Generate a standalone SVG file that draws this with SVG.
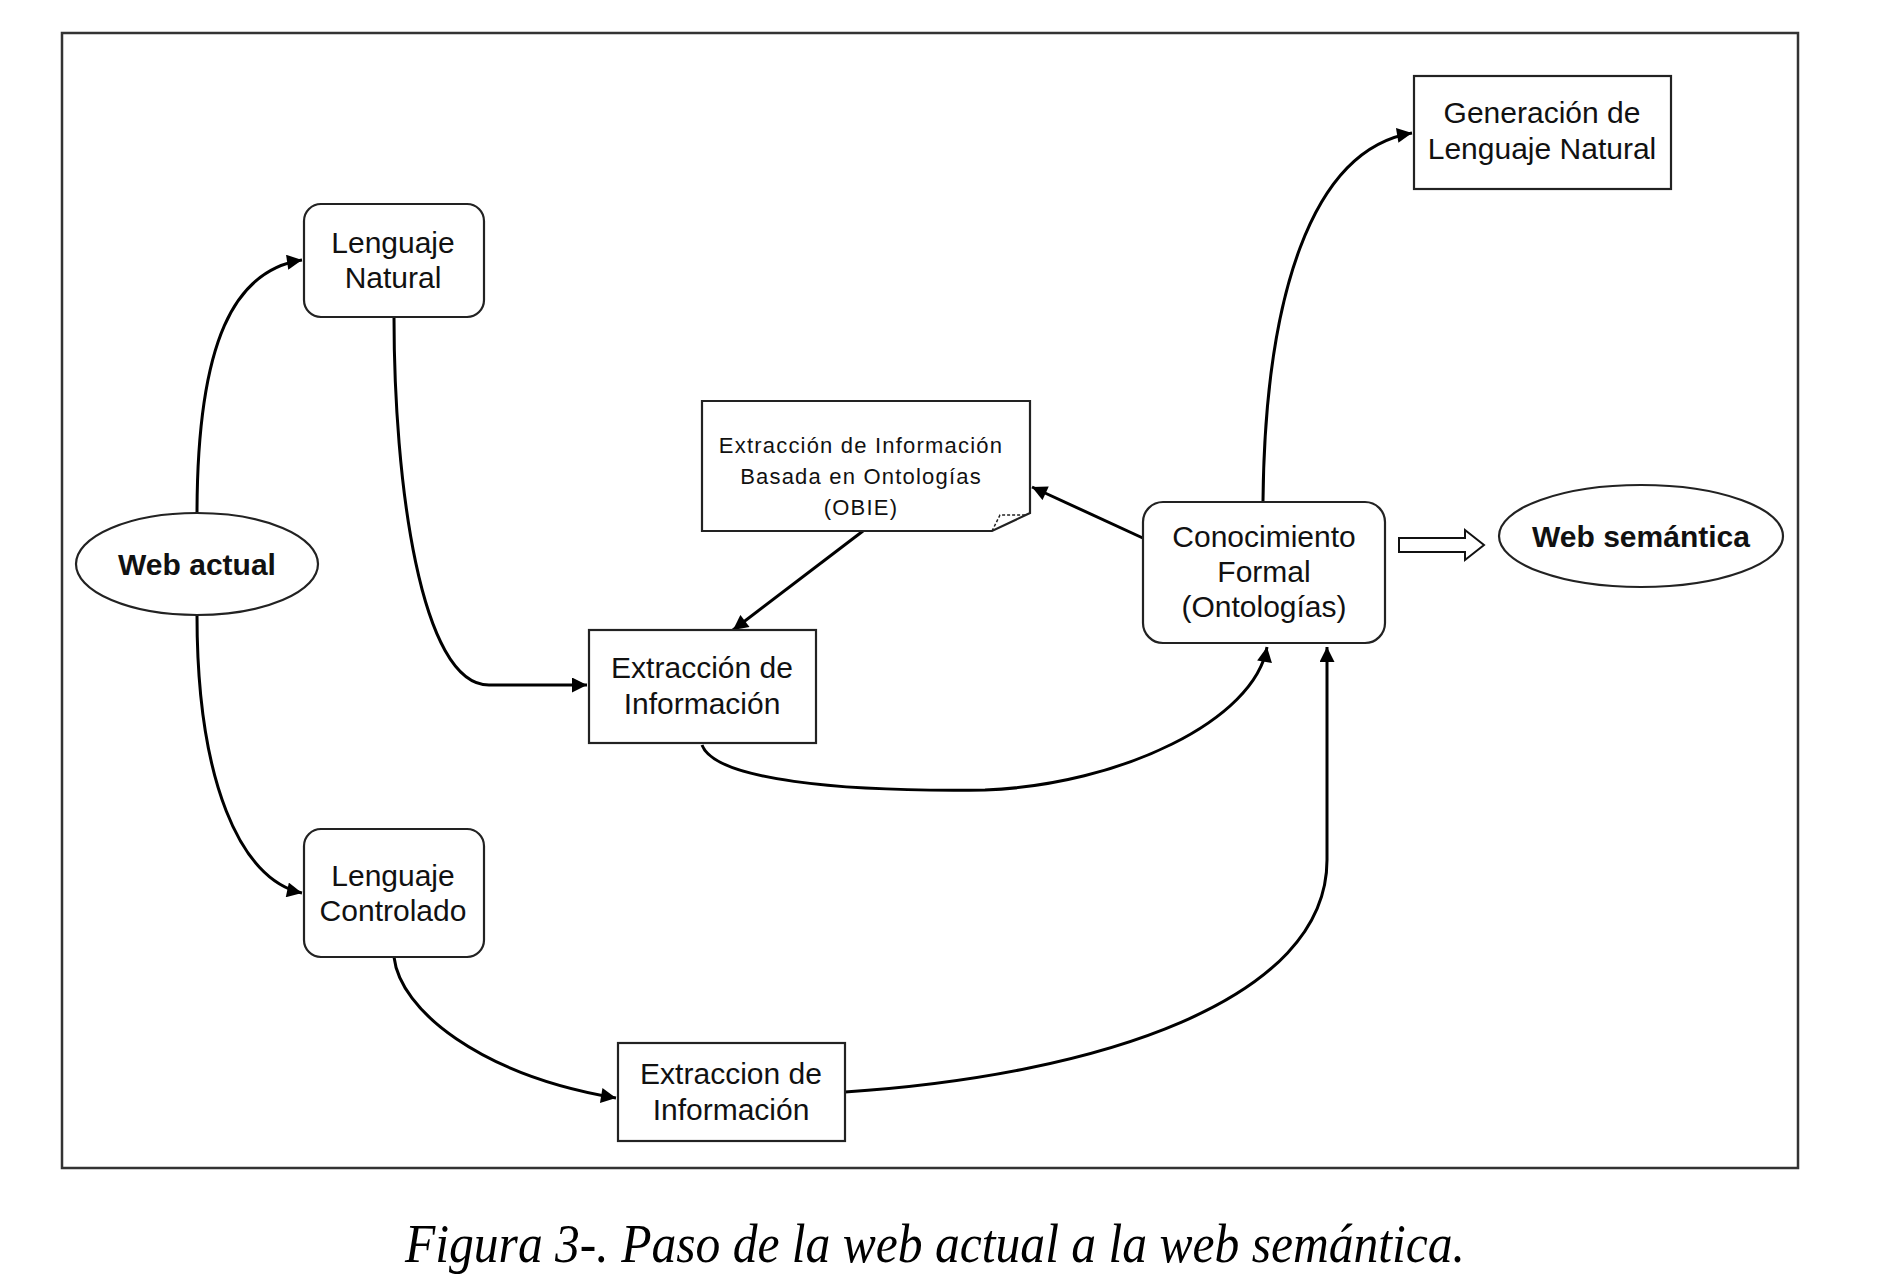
<svg xmlns="http://www.w3.org/2000/svg" width="1892" height="1284" viewBox="0 0 1892 1284">
<style>
.box{fill:#fff;stroke:#222;stroke-width:2.2}
.t{font-family:"Liberation Sans",Arial,sans-serif;font-size:30px;fill:#111;text-anchor:middle}
.tb{font-family:"Liberation Sans",Arial,sans-serif;font-size:30px;font-weight:bold;fill:#111;text-anchor:middle}
.ts{font-family:"Liberation Sans",Arial,sans-serif;font-size:22px;fill:#111;text-anchor:middle;letter-spacing:1.2px}
.c{fill:none;stroke:#000;stroke-width:3;marker-end:url(#ah)}
</style>
<defs>
<marker id="ah" viewBox="0 0 10 10" refX="10" refY="5" markerWidth="17" markerHeight="15" markerUnits="userSpaceOnUse" orient="auto">
<path d="M0,0 L10,5 L0,10 z" fill="#000"/>
</marker>
</defs>
<rect x="62" y="33" width="1736" height="1135" fill="none" stroke="#333" stroke-width="2.5"/>

<g id="connectors">
<path class="c" d="M197,515 C197,340 235,270 302,260"/>
<path class="c" d="M197,615 C197,780 240,880 302,893"/>
<path class="c" d="M394,317 C394,480 420,685 489,685 L587,685"/>
<path class="c" d="M394,957 C400,1010 480,1075 616,1098"/>
<path class="c" d="M702,745 C715,780 840,792 985,790 C1120,785 1255,720 1267,647"/>
<path class="c" d="M845,1092 C1100,1075 1327,1000 1327,860 L1327,647"/>
<path class="c" d="M1263,501 C1265,300 1310,150 1412,133"/>
<path class="c" d="M1158,545 L1032,487"/>
<path class="c" d="M863,531 L733,630"/>
<polygon points="1399,538 1465,538 1465,530 1484,545 1465,560 1465,552 1399,552" fill="#fff" stroke="#111" stroke-width="2"/>
</g>

<g id="web-actual">
<ellipse class="box" cx="197" cy="564" rx="121" ry="51"/>
<text class="tb" x="197" y="575">Web actual</text>
</g>

<g id="lenguaje-natural">
<rect class="box" x="304" y="204" width="180" height="113" rx="17"/>
<text class="t" x="393" y="253">Lenguaje</text>
<text class="t" x="393" y="288">Natural</text>
</g>

<g id="lenguaje-controlado">
<rect class="box" x="304" y="829" width="180" height="128" rx="17"/>
<text class="t" x="393" y="886">Lenguaje</text>
<text class="t" x="393" y="921">Controlado</text>
</g>

<g id="extraccion-informacion">
<rect class="box" x="589" y="630" width="227" height="113"/>
<text class="t" x="702" y="678">Extracción de</text>
<text class="t" x="702" y="714">Información</text>
</g>

<g id="extraccion-informacion-2">
<rect class="box" x="618" y="1043" width="227" height="98"/>
<text class="t" x="731" y="1084">Extraccion de</text>
<text class="t" x="731" y="1120">Información</text>
</g>

<g id="obie">
<path class="box" d="M702,401 H1030 V513 L992,531 H702 Z"/>
<path d="M992,531 L1000,515 L1026,515" fill="none" stroke="#222" stroke-width="1.5" stroke-dasharray="3,2"/>
<text class="ts" x="861" y="453">Extracción de Información</text>
<text class="ts" x="861" y="484">Basada en Ontologías</text>
<text class="ts" x="861" y="515">(OBIE)</text>
</g>

<g id="conocimiento-formal">
<rect class="box" x="1143" y="502" width="242" height="141" rx="20"/>
<text class="t" x="1264" y="547">Conocimiento</text>
<text class="t" x="1264" y="582">Formal</text>
<text class="t" x="1264" y="617">(Ontologías)</text>
</g>

<g id="generacion">
<rect class="box" x="1414" y="76" width="257" height="113"/>
<text class="t" x="1542" y="123">Generación de</text>
<text class="t" x="1542" y="159">Lenguaje Natural</text>
</g>

<g id="web-semantica">
<ellipse class="box" cx="1641" cy="536" rx="142" ry="51"/>
<text class="tb" x="1641" y="547">Web semántica</text>
</g>

<text x="935" y="1262" font-family="'Liberation Serif','Times New Roman',serif" font-style="italic" font-size="54" text-anchor="middle" fill="#000" textLength="1060" lengthAdjust="spacingAndGlyphs">Figura 3-. Paso de la web actual a la web semántica.</text>
</svg>
